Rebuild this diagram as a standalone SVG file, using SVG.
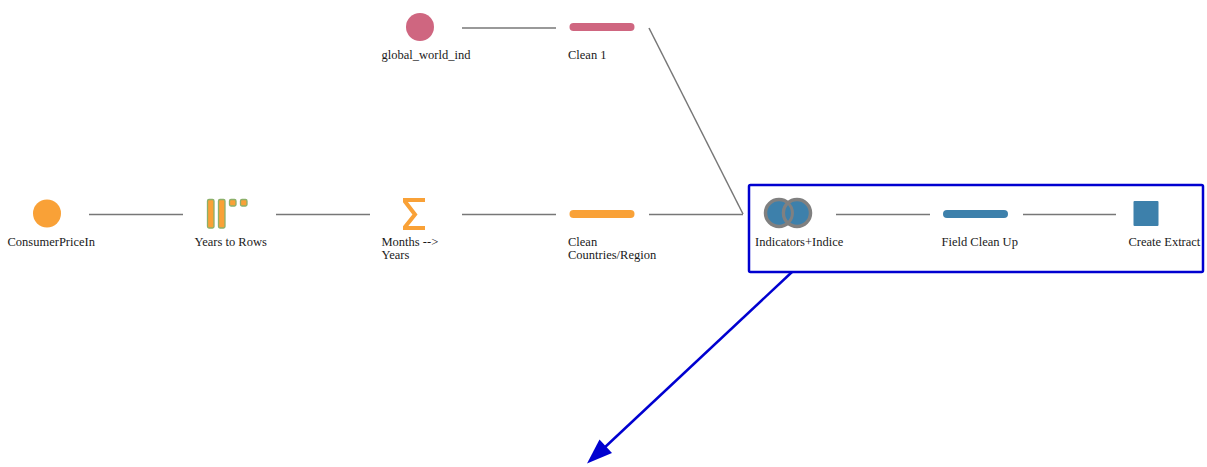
<svg xmlns="http://www.w3.org/2000/svg" width="1207" height="467" viewBox="0 0 1207 467">
<style>
text { font-family: "Liberation Serif", "Times New Roman", serif; font-size: 12.5px; fill: #1a1a1a; }
.c { stroke: #777; stroke-width: 1.5; fill: none; }
.bar { stroke: none; }
</style>
<rect width="1207" height="467" fill="#fff"/>
<g id="connectors">
<line class="c" x1="462" y1="28" x2="556" y2="28"/>
<line class="c" x1="649" y1="28" x2="743" y2="214"/>
<line class="c" x1="89" y1="214.500" x2="183" y2="214.500"/>
<line class="c" x1="276" y1="214.500" x2="370" y2="214.500"/>
<line class="c" x1="462" y1="214.500" x2="556" y2="214.500"/>
<line class="c" x1="649" y1="214.500" x2="743" y2="214.500"/>
<line class="c" x1="836" y1="214.500" x2="930" y2="214.500"/>
<line class="c" x1="1023" y1="214.500" x2="1116" y2="214.500"/>
<line x1="792" y1="272" x2="603" y2="449" stroke="#0000d0" stroke-width="2.500"/>
<polygon points="587,463.500 599.500,439.500 612,453" fill="#0000d0"/>
</g>
<g id="node-global_world_ind">
<circle cx="420" cy="27" r="14" fill="#cf6680"/>
<text x="381.500" y="59">global_world_ind</text>
</g>
<g id="node-clean1">
<rect class="bar" x="569.500" y="23" width="65" height="8" rx="4" fill="#cf6680"/>
<text x="568" y="59">Clean 1</text>
</g>
<g id="node-consumer">
<circle cx="47" cy="213.500" r="14" fill="#f9a137"/>
<text x="7.500" y="246">ConsumerPriceIn</text>
</g>
<g id="node-years-to-rows">
<g fill="#f9a137" stroke="#8cb06a" stroke-width="1.300">
<rect x="207.500" y="199.500" width="6.500" height="28.500" rx="1.500"/>
<rect x="218.500" y="199.500" width="6.500" height="28.500" rx="1.500"/>
<rect x="229.500" y="199.500" width="6.500" height="6.500" rx="1.500"/>
<rect x="240.500" y="199.500" width="6.500" height="6.500" rx="1.500"/>
</g>
<text x="194.500" y="246">Years to Rows</text>
</g>
<g id="node-months">
<path d="M425 200H405V201.500L415 214.500L405 227V228H425" fill="none" stroke="#f9a137" stroke-width="4"/>
<text x="381.500" y="246">Months --&gt;</text>
<text x="381.500" y="259">Years</text>
</g>
<g id="node-clean-countries">
<rect class="bar" x="569.500" y="210" width="65" height="8" rx="4" fill="#f9a137"/>
<text x="568" y="246">Clean</text>
<text x="568" y="259">Countries/Region</text>
</g>
<g id="node-indicators">
<circle cx="779" cy="213" r="13.500" fill="#3d80ab" stroke="#808080" stroke-width="3.500"/>
<circle cx="797" cy="213" r="13.500" fill="#3d80ab" stroke="#808080" stroke-width="3.500"/>
<path d="M788 203A13.500 13.500 0 0 1 788 223A13.500 13.500 0 0 1 788 203Z" fill="#3d80ab" stroke="#808080" stroke-width="3"/>
<text x="755" y="246">Indicators+Indice</text>
</g>
<g id="node-field-clean">
<rect class="bar" x="943" y="210" width="65" height="8" rx="4" fill="#3d80ab"/>
<text x="941.500" y="246">Field Clean Up</text>
</g>
<g id="node-create-extract">
<rect x="1133.500" y="201" width="25" height="25" rx="1" fill="#3d80ab"/>
<text x="1128.500" y="246">Create Extract</text>
</g>
<rect id="selection" x="749" y="185" width="454" height="87" rx="1.500" fill="none" stroke="#0000d0" stroke-width="2.500"/>
</svg>
